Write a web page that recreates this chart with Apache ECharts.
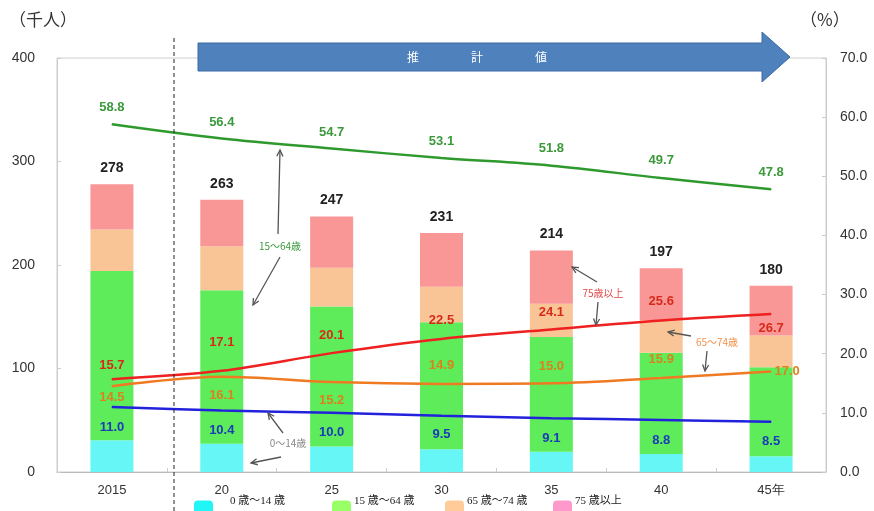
<!DOCTYPE html>
<html><head><meta charset="utf-8">
<script src="https://cdn.jsdelivr.net/npm/echarts@6/dist/echarts.min.js"></script>
<style>html,body{margin:0;padding:0;background:#fff}#c{width:874px;height:511px}</style>
</head><body><div id="c"></div>
<script>
// ---- data ----
const years = ['2015', '20', '25', '30', '35', '40', '45年'];
const seriesNames = ['0 歳〜14 歳', '15 歳〜64 歳', '65 歳〜74 歳', '75 歳以上'];
const age0_14  = [30.6, 27.4, 24.7, 21.9, 19.5, 17.3, 15.3];
const age15_64 = [163.5, 148.3, 135.1, 122.7, 110.9, 97.9, 86.0];
const age65_74 = [40.3, 42.3, 37.5, 34.4, 32.1, 31.3, 30.6];
const age75    = [43.6, 45.0, 49.6, 52.0, 51.6, 50.4, 48.1];
const totals   = [278, 263, 247, 231, 214, 197, 180];
const pct0_14  = [11.0, 10.4, 10.0, 9.5, 9.1, 8.8, 8.5];
const pct15_64 = [58.8, 56.4, 54.7, 53.1, 51.8, 49.7, 47.8];
const pct65_74 = [14.5, 16.1, 15.2, 14.9, 15.0, 15.9, 17.0];
const pct75    = [15.7, 17.1, 20.1, 22.5, 24.1, 25.6, 26.7];
const leftTicks = [0, 100, 200, 300, 400];
const rightTicks = [0, 10, 20, 30, 40, 50, 60, 70];

// ---- label layout (pixel offsets, not data) ----
const offRed    = [[0,-14],[0,-28],[0,-18],[0,-19],[0,-17],[0,-19],[0,14]];
const offOrange = [[0,11],[0,19],[0,18],[0,-18],[0,-17],[0,-19],[16,0]];
const offBlue   = [[0,20],[0,20],[0,20],[0,19],[0,20],[0,20],[0,20]];
const offGreen  = [[0,-17],[0,-16],[0,-16],[0,-17],[0,-17],[0,-18],[0,-17]];

const FONT = '"Liberation Sans", Arial, sans-serif';
const JP = '"Noto Sans CJK JP", sans-serif';

function withOffsets(vals, offs) {
  return vals.map((v, i) => ({ value: v, label: { offset: offs[i] } }));
}

function lineSeries(name, vals, offs, lineColor, labelColor) {
  return {
    name: name, type: 'line', yAxisIndex: 1, z: 5,
    data: withOffsets(vals, offs),
    smooth: 0.35, symbol: 'circle', symbolSize: 1, showSymbol: true,
    itemStyle: { color: lineColor },
    lineStyle: { color: lineColor, width: 2.5 },
    label: { show: true, position: 'inside', color: labelColor, fontSize: 13, fontWeight: 'bold', fontFamily: FONT,
      formatter: p => p.value.toFixed(1) },
    emphasis: { disabled: true }, silent: true
  };
}

function barSeries(name, vals, color, extra) {
  return Object.assign({
    name: name, type: 'bar', stack: 'pop', data: vals, barWidth: 43,
    itemStyle: { color: color }, emphasis: { disabled: true }, silent: true
  }, extra || {});
}

function arrow(x1, y1, x2, y2, color) {
  const ang = Math.atan2(y2 - y1, x2 - x1), L = 7, a = 0.45;
  return [
    { type: 'line', shape: { x1, y1, x2, y2 }, style: { stroke: color, lineWidth: 1.3 }, z: 100 },
    { type: 'polyline', z: 100, shape: { points: [
      [x2 - L * Math.cos(ang - a), y2 - L * Math.sin(ang - a)], [x2, y2],
      [x2 - L * Math.cos(ang + a), y2 - L * Math.sin(ang + a)]] },
      style: { stroke: color, fill: null, lineWidth: 1.3 } }
  ];
}
function note(text, x, y, color) {
  return { type: 'text', z: 100, x: x, y: y, style: { text: text, fill: color, fontSize: 10, fontFamily: JP,
    align: 'center', verticalAlign: 'middle' } };
}

const legendColors = ['#22f5f5', '#99ff66', '#ffcc99', '#ff99cc'];
const legendLefts = [194, 332, 445, 553];
const legendTextPadLeft = [12, -2, -2, -2];
const legends = seriesNames.map((n, i) => ({
  left: legendLefts[i], top: 496, padding: 0, itemWidth: 19, itemHeight: 16, itemGap: 5,
  icon: 'roundRect', selectedMode: false,
  data: [{ name: n, itemStyle: { color: legendColors[i] } }],
  formatter: name => '{t|' + name + '}',
  textStyle: { fontSize: 11, color: '#222', fontFamily: '"Liberation Serif", "Noto Sans CJK JP", serif',
    rich: { t: { fontSize: 11, color: '#222', fontFamily: '"Liberation Serif", "Noto Sans CJK JP", serif',
      padding: [0, 0, 14, legendTextPadLeft[i]] } } }
}));

const graphics = [
  { type: 'text', x: 9, y: 20, style: { text: '（千人）', fontSize: 17, fill: '#333', fontFamily: JP, verticalAlign: 'middle' } },
  { type: 'text', x: 800, y: 20, style: { text: '（%）', fontSize: 17, fill: '#333', fontFamily: JP, verticalAlign: 'middle' } },
  { type: 'line', z: 90, shape: { x1: 174, y1: 38, x2: 174, y2: 511 }, style: { stroke: '#222', lineWidth: 1, lineDash: [4, 3] } },
  { type: 'polygon', z: 90, shape: { points: [[198,43],[762,43],[762,32],[790,57],[762,82],[762,71],[198,71]] },
    style: { fill: '#4f81bd', stroke: '#3b6aa3', lineWidth: 1 } },
  { type: 'text', z: 95, x: 413, y: 57, style: { text: '推', fill: '#fff', fontSize: 12, fontFamily: JP, align: 'center', verticalAlign: 'middle' } },
  { type: 'text', z: 95, x: 477, y: 57, style: { text: '計', fill: '#fff', fontSize: 12, fontFamily: JP, align: 'center', verticalAlign: 'middle' } },
  { type: 'text', z: 95, x: 541, y: 57, style: { text: '値', fill: '#fff', fontSize: 12, fontFamily: JP, align: 'center', verticalAlign: 'middle' } },
  note('15〜64歳', 280, 246, '#3a9a3a'),
  ...arrow(278, 234, 280, 150, '#555'),
  ...arrow(280, 257, 253, 305, '#555'),
  note('75歳以上', 603, 293, '#e04848'),
  ...arrow(597, 282, 572, 267, '#555'),
  ...arrow(598, 302, 596, 325, '#555'),
  note('65〜74歳', 717, 342, '#f09048'),
  ...arrow(691, 336, 668, 332, '#555'),
  ...arrow(707, 351, 705, 371, '#555'),
  note('0〜14歳', 288, 443, '#888'),
  ...arrow(283, 433, 268, 413, '#555'),
  ...arrow(281, 457, 251, 463, '#555')
];

const chart = echarts.init(document.getElementById('c'), null, { renderer: 'canvas' });
chart.setOption({
  animation: false,
  backgroundColor: '#fff',
  textStyle: { fontFamily: FONT },
  grid: { left: 57, right: 48, top: 58, bottom: 39, show: true, borderColor: '#cfcfcf', borderWidth: 1, backgroundColor: '#fff' },
  legend: legends,
  xAxis: {
    type: 'category', data: years,
    axisLine: { lineStyle: { color: '#bbb' } },
    axisTick: { show: true, inside: true, length: 4, lineStyle: { color: '#ccc' } },
    axisLabel: { color: '#333', fontSize: 13, margin: 12, fontFamily: FONT }
  },
  yAxis: [
    { type: 'value', min: leftTicks[0], max: leftTicks[leftTicks.length - 1], interval: 100,
      axisLine: { show: true, lineStyle: { color: '#ccc' } },
      axisTick: { show: true, inside: true, length: 4, lineStyle: { color: '#ccc' } },
      splitLine: { show: false },
      axisLabel: { color: '#333', fontSize: 14, margin: 22, fontFamily: FONT } },
    { type: 'value', min: rightTicks[0], max: rightTicks[rightTicks.length - 1], interval: 10, position: 'right',
      axisLine: { show: true, lineStyle: { color: '#ccc' } },
      axisTick: { show: true, inside: true, length: 4, lineStyle: { color: '#ccc' } },
      splitLine: { show: false },
      axisLabel: { color: '#333', fontSize: 14, margin: 14, fontFamily: FONT, formatter: v => v.toFixed(1) } }
  ],
  series: [
    barSeries(seriesNames[0], age0_14, '#66f6f6'),
    barSeries(seriesNames[1], age15_64, '#5eec5a'),
    barSeries(seriesNames[2], age65_74, '#f9c596'),
    barSeries(seriesNames[3], age75, '#f99696', {
      label: { show: true, position: 'top', distance: 9, color: '#222', fontSize: 14, fontWeight: 'bold', fontFamily: FONT,
        formatter: p => String(totals[p.dataIndex]) } }),
    lineSeries('pct15_64', pct15_64, offGreen, '#2e9a2e', '#3a9a3a'),
    lineSeries('pct75', pct75, offRed, '#ee2020', '#d82a1a'),
    lineSeries('pct65_74', pct65_74, offOrange, '#f07a22', '#d9821e'),
    lineSeries('pct0_14', pct0_14, offBlue, '#2222dd', '#1a3cb8')
  ],
  graphic: graphics
});
</script>
</body></html>
